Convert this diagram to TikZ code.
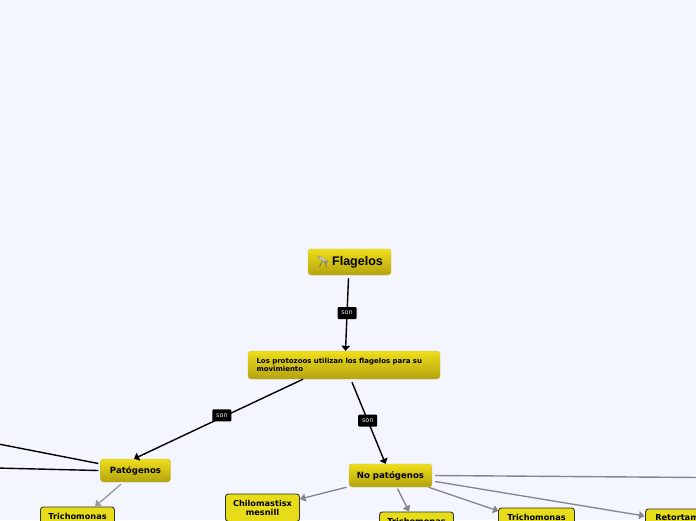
\documentclass[tikz,border=0pt]{standalone}
\usepackage{fontspec}
\setmainfont{DejaVu Sans}
\newfontfamily\titlefont{Liberation Sans}
\usepackage{tikz}
\usetikzlibrary{arrows.meta}
\definecolor{pagebg}{HTML}{F3F6FF}
\definecolor{leafyellow}{HTML}{E6DC1A}
\definecolor{topyellow}{HTML}{EFDE1A}
\definecolor{lowyellow}{HTML}{B3A30E}
\definecolor{edgeyellow}{HTML}{C9BC4A}
\definecolor{linegray}{HTML}{85858F}
\tikzstyle{topic}=[rectangle,rounded corners=3pt,draw=edgeyellow,top color=topyellow,bottom color=lowyellow,
text centered,font=\bfseries,text=black,inner sep=0pt]
\tikzstyle{leaf}=[rectangle,rounded corners=3pt,draw=black!80,fill=leafyellow,line width=0.9pt,
text centered,font=\bfseries\fontsize{8.2}{9.2}\selectfont,inner xsep=0pt,inner ysep=6pt,text width=74pt,anchor=north]
\tikzstyle{sonlabel}=[fill=black,rounded corners=1pt,text=white!90!black,font=\fontsize{6.5}{7}\selectfont,
minimum width=19pt,minimum height=12pt,inner sep=0pt]
\tikzstyle{arrow}=[line width=1.4pt,-{Triangle[width=8.5pt,length=5pt]}]
\tikzstyle{grayarrow}=[line width=1.3pt,-{Triangle[width=8pt,length=5.5pt]},draw=linegray,fill=linegray]
\tikzstyle{plainline}=[line width=1.4pt]
\begin{document}
\begin{tikzpicture}[x=1pt,y=-1pt]
        \useasboundingbox (0,0) rectangle (696,520);
        \clip (0,0) rectangle (696,520);
        \fill [pagebg] (0,0) rectangle (696,520);

        \node (flagelos) [topic,minimum width=83pt,minimum height=26pt,font=\titlefont\bfseries\fontsize{12.5}{14}\selectfont] at (349.5,262) {\hspace{16pt}Flagelos};
        \node (protozoos) [topic,minimum width=192pt,minimum height=28pt,text width=175pt,align=left,font=\bfseries\fontsize{7}{8.5}\selectfont] at (344,365) {Los protozoos utilizan los flagelos para su movimiento};
        \node (patogenos) [topic,minimum width=70pt,minimum height=23pt,font=\bfseries\fontsize{8.6}{10}\selectfont] at (135.5,470.5) {Patógenos};
        \node (nopatogenos) [topic,minimum width=83pt,minimum height=23pt,font=\bfseries\fontsize{8.6}{10}\selectfont] at (390.5,475.5) {No patógenos};

        \node (chilomastisx) [leaf] at (262.5,493.5) {Chilomastisx mesnill};
        \node (trichoizq) [leaf] at (77.5,506.5) {Trichomonas};
        \node (trichomed) [leaf] at (416.5,511.5) {Trichomonas};
        \node (trichoder) [leaf,text width=76pt] at (536.5,507.5) {Trichomonas};
        \node (retortam) [leaf,text width=85pt] at (688,508.5) {Retortamonas};

        % free ends outside the page
        \coordinate (salidaizqa) at (-4,443.5);
        \coordinate (salidaizqb) at (-4,468);
        \coordinate (salidader) at (700,477.5);

        % telescope icon
        \draw [line width=0.8pt,draw=black!55] (322.5,260) -- (319.5,267) (323.5,260) -- (327,267);
        \draw [line width=2.4pt,draw=black!45] (318.5,256.5) -- (327.5,262.5);
        \draw [line width=1.3pt,draw=white!85!black] (319.5,257) -- (325,260.7);

        \draw [arrow] ([xshift=-1pt,yshift=-3pt]flagelos.south) -- node[sonlabel,pos=0.48]{son} ([xshift=1.5pt]protozoos.north);
        \draw [arrow] ([xshift=-41pt]protozoos.south) -- node[sonlabel,pos=0.48,yshift=2pt]{son} ([xshift=-1.5pt]patogenos.north);
        \draw [arrow] ([xshift=8pt,yshift=-3pt]protozoos.south) -- node[sonlabel,pos=0.47]{son} ([xshift=-5pt]nopatogenos.north);
        \draw [plainline] ([xshift=-2pt,yshift=7pt]patogenos.west) -- (salidaizqa);
        \draw [plainline] ([xshift=-2pt]patogenos.west) -- (salidaizqb);
        \draw [grayarrow,draw=black!40,fill=black!40] ([xshift=-14.5pt,yshift=-2pt]patogenos.south) -- ([xshift=17.5pt]trichoizq.north);
        \draw [grayarrow] ([xshift=-44pt]nopatogenos.south) -- ([yshift=-5.5pt]chilomastisx.north east);
        \draw [grayarrow] ([xshift=7pt,yshift=-1.5pt]nopatogenos.south) -- ([xshift=-7.5pt]trichomed.north);
        \draw [grayarrow] ([xshift=38pt]nopatogenos.south) -- ([xshift=-38pt,yshift=-3.5pt]trichoder.north);
        \draw [grayarrow] ([xshift=3pt,yshift=-6pt]nopatogenos.east) -- ([xshift=-43.5pt,yshift=-7.5pt]retortam.north);
        \draw [plainline,draw=linegray] ([xshift=3pt]nopatogenos.east) -- (salidader);
\end{tikzpicture}
\end{document}
